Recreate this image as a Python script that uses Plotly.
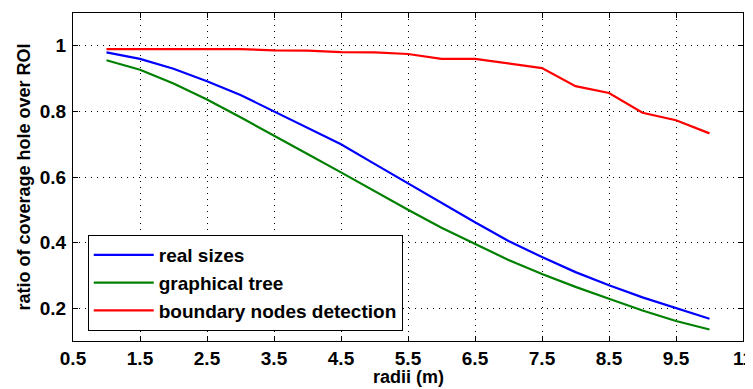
import plotly.graph_objects as go

radii = [1, 1.5, 2, 2.5, 3, 3.5, 4, 4.5, 5, 5.5, 6, 6.5, 7, 7.5, 8, 8.5, 9, 9.5, 10]
real_sizes = [0.98, 0.96, 0.93, 0.892, 0.85, 0.80, 0.75, 0.70, 0.64, 0.58, 0.52, 0.462,
              0.405, 0.356, 0.31, 0.27, 0.233, 0.201, 0.168]
graphical_tree = [0.956, 0.927, 0.885, 0.836, 0.782, 0.725, 0.67, 0.614, 0.556, 0.50, 0.445,
                  0.395, 0.347, 0.304, 0.265, 0.229, 0.193, 0.161, 0.135]
boundary_nodes = [0.99, 0.99, 0.99, 0.99, 0.99, 0.986, 0.985, 0.981, 0.98, 0.975, 0.96, 0.96,
                  0.945, 0.932, 0.877, 0.856, 0.796, 0.773, 0.733]

x_tickvals = [0.5, 1.5, 2.5, 3.5, 4.5, 5.5, 6.5, 7.5, 8.5, 9.5, 10.5]
x_ticktext = ["0.5", "1.5", "2.5", "3.5", "4.5", "5.5", "6.5", "7.5", "8.5", "9.5", "11"]
y_tickvals = [0.2, 0.4, 0.6, 0.8, 1.0]
y_ticktext = ["0.2", "0.4", "0.6", "0.8", "1"]

font = "Liberation Sans, Arial, sans-serif"
fsize = 19

fig = go.Figure()
series = [("real sizes", real_sizes, "#0000FF"),
          ("graphical tree", graphical_tree, "#008000"),
          ("boundary nodes detection", boundary_nodes, "#FF0000")]
for name, ys, color in series:
    fig.add_trace(go.Scatter(x=radii, y=ys, mode="lines", name=name, legendgroup=name,
                             line=dict(color=color, width=2.2)))

axis_common = dict(showline=True, linecolor="black", linewidth=1, mirror="ticks",
                   ticks="inside", ticklen=5, tickcolor="black",
                   showgrid=True, gridcolor="black", griddash="1px,5px", gridwidth=1,
                   zeroline=False, automargin=False,
                   tickfont=dict(family=font, size=fsize, color="black", weight="bold"))

fig.update_xaxes(range=[0.5, 10.5], tickvals=x_tickvals, ticktext=x_ticktext,
                 **axis_common)
fig.update_yaxes(range=[0.1, 1.1], tickvals=y_tickvals, ticktext=y_ticktext,
                 title=dict(text="ratio of coverage hole over ROI", standoff=4,
                            font=dict(family=font, size=18, color="black", weight="bold")),
                 ticklabelstandoff=2,
                 **axis_common)

fig.add_annotation(text="radii (m)", xref="paper", yref="paper", x=0.5, y=-0.11,
                   xanchor="center", yanchor="middle", showarrow=False,
                   font=dict(family=font, size=18, color="black", weight="bold"))

# the page body has an 8px default margin, so the figure is shifted by 8px
fig.update_layout(
    width=753, height=389,
    margin=dict(l=65, r=18, t=5, b=56),
    paper_bgcolor="white", plot_bgcolor="white",
    showlegend=True,
    legend=dict(x=0.022, y=0.323, xanchor="left", yanchor="top",
                bgcolor="white", bordercolor="black", borderwidth=1,
                tracegroupgap=0, itemwidth=60,
                font=dict(family=font, size=fsize, color="black", weight="bold")),
)

fig.write_html("out.html")
